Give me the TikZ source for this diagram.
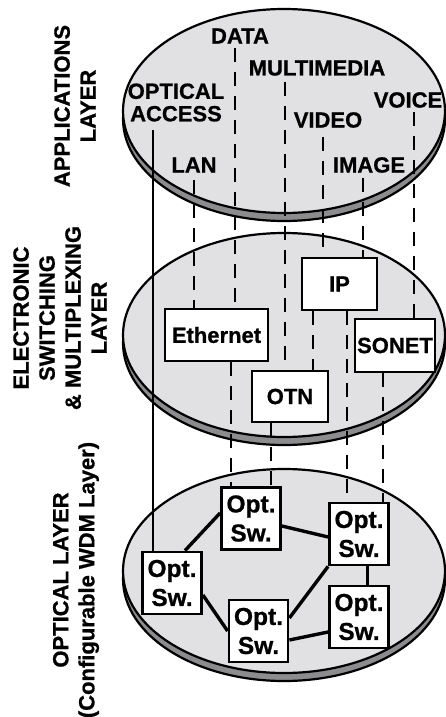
\documentclass[tikz,border=0pt]{standalone}
\usepackage{fontspec}
\setmainfont{Liberation Sans}[BoldFeatures={FakeBold=0.8}]
\definecolor{disk}{RGB}{225,225,227}
\definecolor{rimc}{RGB}{140,140,142}
\begin{document}
\begin{tikzpicture}[x=1pt,y=-1pt,
  rimstyle/.style={draw=black,line width=2.2pt,fill=rimc},
  diskstyle/.style={draw=black,line width=2.2pt,fill=disk},
  lbl/.style={font=\bfseries\fontsize{22}{22.5}\selectfont,inner sep=0pt,align=center},
  side/.style={font=\bfseries\fontsize{22}{26}\selectfont,inner sep=0pt,align=center,rotate=90},
  boxn/.style={draw=black,line width=2.8pt,fill=white,inner sep=0pt,
    font=\bfseries\fontsize{22}{22}\selectfont},
  osw/.style={draw=black,line width=2.8pt,fill=white,inner sep=0pt,align=center,
    minimum width=59pt,minimum height=62pt,font=\bfseries\fontsize{24.5}{29}\selectfont},
  dl/.style={line width=2.7pt,dash pattern=on 14pt off 10pt},
  sl/.style={line width=2.7pt},
  link/.style={line width=3.4pt}]
\useasboundingbox (0,0) rectangle (446,717);

% layers
\foreach \cy in {111,335,571}{
  \draw[rimstyle] (284,\cy+8) ellipse [x radius=161pt, y radius=102pt];
  \draw[diskstyle] (284,\cy) ellipse [x radius=161pt, y radius=102pt];
}

% side labels
\node[side] (lapp) at (75,106) {APPLICATIONS\\LAYER};
\node[side] (lel) at (60,318) {ELECTRONIC\\SWITCHING\\\& MULTIPLEXING\\LAYER};
\node[side] (lopt) at (76,580) {OPTICAL LAYER\\(Configurable WDM Layer)};

% application labels
\node[lbl] (data) at (240,36) {DATA};
\node[lbl] (mm) at (317,68) {MULTIMEDIA};
\node[lbl] (oacc) at (176,102.5) {OPTICAL\\ACCESS};
\node[lbl] (voice) at (408,100) {VOICE};
\node[lbl] (video) at (328,120) {VIDEO};
\node[lbl] (lan) at (194,165) {LAN};
\node[lbl] (image) at (369,165) {IMAGE};

\coordinate (oaS) at (153,130);
\coordinate (dataS) at (235,48);
\coordinate (mmS) at (285,82);
\coordinate (videoS) at (323,137);
\coordinate (voiceS) at (414,112);
\coordinate (lanS) at (194,180);
\coordinate (imageS) at (363,178);

% electronic layer boxes
\node[boxn,minimum width=103pt,minimum height=52pt] (eth) at (216.5,335) {Ethernet};
\node[boxn,minimum width=75pt,minimum height=52pt] (ip) at (339.5,284) {IP};
\node[boxn,minimum width=76pt,minimum height=51pt] (otn) at (290,396.5) {OTN};
\node[boxn,minimum width=80pt,minimum height=53pt] (sonet) at (395,345.5) {SONET};

% optical switches
\node[osw] (A) at (172,583) {Opt.\\Sw.};
\node[osw] (B) at (251,518.5) {Opt.\\Sw.};
\node[osw] (C) at (359,534) {Opt.\\Sw.};
\node[osw] (D) at (258.5,631) {Opt.\\Sw.};
\node[osw] (E) at (359,617) {Opt.\\Sw.};

% application -> electronic
\draw[sl] (oaS) -- ([xshift=-19pt]A.north);
\draw[dl] (lanS) -- ([xshift=-22.5pt]eth.north);
\draw[dl] (dataS) -- ([xshift=18.5pt]eth.north);
\draw[dl] (mmS) -- ([xshift=-5pt]otn.north);
\draw[dl] (videoS) -- ([xshift=-16.5pt]ip.north);
\draw[dl] (imageS) -- ([xshift=23.5pt]ip.north);
\draw[dl] (voiceS) -- ([xshift=19pt]sonet.north);

% electronic -> optical
\draw[dl] ([xshift=14.5pt]eth.south) -- ([xshift=-20pt]B.north);
\draw[dl] ([xshift=-19pt]otn.south) -- ([xshift=20pt]B.north);
\draw[dl] ([xshift=-26.5pt]ip.south) -- ([xshift=23pt]otn.north);
\draw[dl] ([xshift=7.5pt]ip.south) -- ([xshift=-12pt]C.north);
\draw[dl] ([xshift=-12pt]sonet.south) -- ([xshift=24pt]C.north);

% optical links
\draw[link] ([xshift=13pt]A.north) -- ([yshift=5.5pt]B.west);
\draw[link] ([yshift=-12pt]A.east) -- (D.west);
\draw[link] ([yshift=-7.5pt]B.east) -- ([yshift=-3pt]C.west);
\draw[link] (C.south west) -- ([yshift=13pt]D.east);
\draw[link] ([xshift=8.7pt]C.south) -- ([xshift=8.7pt]E.north);
\draw[link] ([yshift=-9pt]D.east) -- ([yshift=-15pt]E.west);
\end{tikzpicture}
\end{document}
